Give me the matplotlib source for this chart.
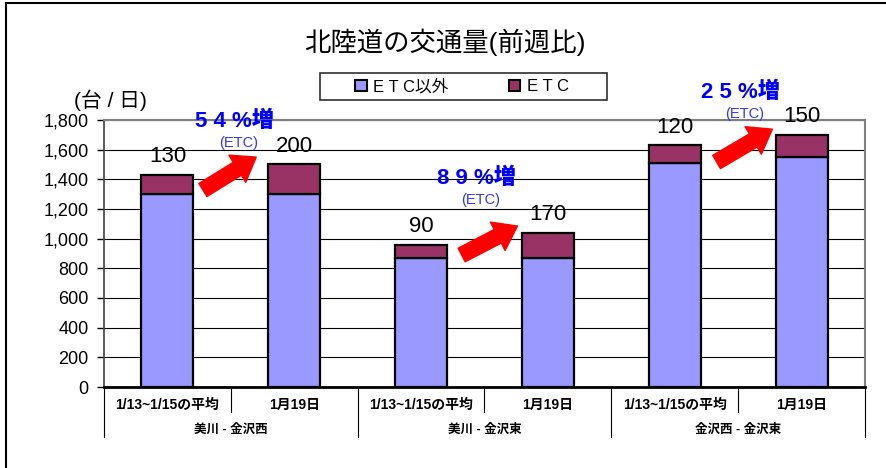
import numpy as np
import matplotlib.pyplot as plt
from matplotlib.lines import Line2D
from matplotlib.patches import Patch, Rectangle

plt.rcParams['font.family'] = ['Liberation Sans', 'Noto Sans CJK JP', 'DejaVu Sans']

# data
bar_labels = ['1/13~1/15の平均', '1月19日'] * 3
groups = ['美川 - 金沢西', '美川 - 金沢東', '金沢西 - 金沢東']
non_etc = [1300, 1300, 870, 870, 1510, 1550]
etc = [130, 200, 90, 170, 120, 150]
increase = ['5 4 %増', '8 9 %増', '2 5 %増']

c_non = '#9999FF'
c_etc = '#993366'

fig = plt.figure(figsize=(8.87, 4.68), dpi=100)
ax = fig.add_axes([104/887, 81/468, 761/887, 267/468])

x = np.arange(len(non_etc))
ax.bar(x, non_etc, width=0.41, color=c_non, edgecolor='black', linewidth=1.6, zorder=3)
ax.bar(x, etc, width=0.41, bottom=non_etc, color=c_etc, edgecolor='black', linewidth=1.6, zorder=3)

# value labels (ETC counts) above each bar
for i in range(len(x)):
    ax.annotate(str(etc[i]), (x[i], non_etc[i] + etc[i]), xytext=(0, 13),
                textcoords='offset points', ha='center', va='center',
                fontsize=16, annotation_clip=False)

ax.set_xlim(-0.5, 5.5)
ax.set_ylim(0, 1800)
ax.set_yticks(range(0, 1801, 200))
ax.set_yticklabels([f'{v:,}' for v in range(0, 1801, 200)], fontsize=13)
ax.tick_params(axis='y', direction='out', length=5, width=1, pad=6)
ax.set_xticks([])
ax.yaxis.grid(True, color='black', linewidth=0.8)
ax.set_axisbelow(True)
for s in ['top', 'right']:
    ax.spines[s].set_color('#808080')
    ax.spines[s].set_linewidth(1.5)
ax.spines['left'].set_color('#404040')
ax.spines['left'].set_linewidth(1.2)
ax.spines['bottom'].set_linewidth(2)

# category / group labels under the axis
tr = ax.get_xaxis_transform()
for i, lab in enumerate(bar_labels):
    ax.text(x[i], -0.068, lab, transform=tr, ha='center', va='center',
            fontsize=10, fontweight='bold')
for g, lab in enumerate(groups):
    ax.text(2*g + 0.5, -0.16, lab, transform=tr, ha='center', va='center',
            fontsize=9, fontweight='bold')
for xv in [0.5, 2.5, 4.5]:
    ax.plot([xv, xv], [0, -0.095], transform=tr, color='black', lw=0.8, clip_on=False)
for xv in [-0.5, 1.5, 3.5, 5.5]:
    ax.plot([xv, xv], [0, -0.188], transform=tr, color='black', lw=0.8, clip_on=False)

# increase arrows and notes
arrows = [((0.28, 1328), (0.70, 1550)),
          ((2.32, 890), (2.76, 1085)),
          ((4.33, 1517), (4.77, 1738))]
for tail, tip in arrows:
    ax.annotate('', xy=tip, xytext=tail,
                arrowprops=dict(arrowstyle='simple,head_width=1.15,head_length=0.8,tail_width=0.55',
                                color='red', mutation_scale=20, shrinkA=0, shrinkB=0),
                annotation_clip=False, zorder=5)
note_pos = [(0.53, 1793), (2.44, 1409), (4.52, 1989)]
for (nx, ny), t in zip(note_pos, increase):
    ax.text(nx, ny, t, ha='center', va='center', color='#0000FF', fontsize=16,
            fontweight='heavy', clip_on=False)
    ax.text(nx + 0.03, ny - 148, '(ETC)', ha='center', va='center', color='#3333FF',
            fontsize=10.5, clip_on=False)

# title, unit, legend
fig.text(445/887, 1 - 42/468, '北陸道の交通量(前週比)', ha='center', va='center', fontsize=19)
fig.text(110/887, 1 - 100/468, '(台 / 日)', ha='center', va='center', fontsize=15)

fig.add_artist(Rectangle((320/887, 1 - 100/468), 287/887, 27/468, transform=fig.transFigure,
                         facecolor='white', edgecolor='#303030', linewidth=1.2))
handles = [Patch(facecolor=c_non, edgecolor='black', linewidth=1.5),
           Patch(facecolor=c_etc, edgecolor='black', linewidth=1.5)]
leg = fig.legend(handles, ['E T C以外', 'E T C'], ncol=2, loc='center',
                 bbox_to_anchor=(462/887, 1 - 86.5/468), frameon=False,
                 fontsize=12, handlelength=0.7, handleheight=0.7, handletextpad=0.4,
                 columnspacing=3.6, borderpad=0)

# outer frame (top & left edges)
fig.add_artist(Line2D([6/887, 1], [1 - 3/468, 1 - 3/468], color='black', lw=1.5))
fig.add_artist(Line2D([6/887, 6/887], [0, 1 - 3/468], color='black', lw=1.5))

fig.savefig('out.png', dpi=100)
